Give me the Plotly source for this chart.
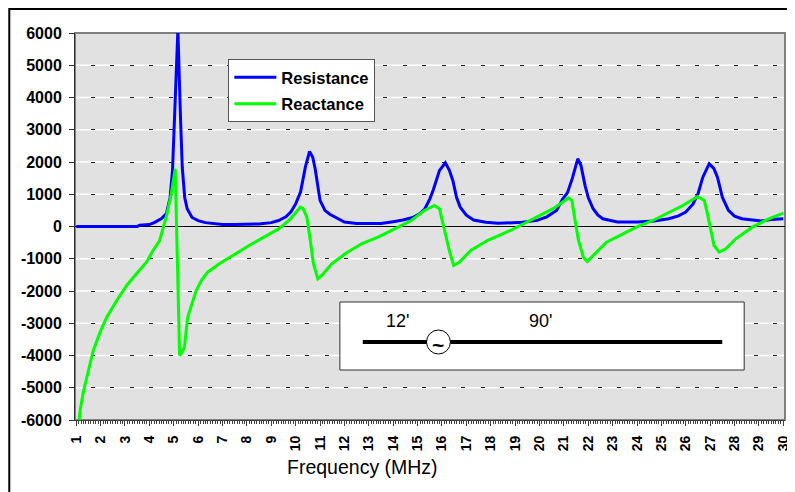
import plotly.graph_objects as go

# ---------------- data ----------------
freq_res = [1.0, 2.0, 3.0, 3.5, 3.6, 4.0, 4.2, 4.5, 4.7, 4.85, 4.95, 5.05, 5.17, 5.28, 5.35, 5.45,
            5.55, 5.75, 6.0, 6.3, 6.7, 7.0, 7.5, 8.0, 8.5, 9.0, 9.3, 9.6, 9.8, 10.0, 10.2, 10.4,
            10.57, 10.7, 10.8, 11.0, 11.2, 11.4, 11.7, 12.0, 12.5, 13.0, 13.5, 14.0, 14.4, 14.8,
            15.1, 15.3, 15.5, 15.65, 15.9, 16.14, 16.3, 16.45, 16.6, 16.75, 17.0, 17.3, 17.8,
            18.3, 18.8, 19.3, 19.9, 20.3, 20.7, 20.95, 21.15, 21.35, 21.57, 21.7, 21.87, 22.0,
            22.2, 22.4, 22.6, 23.2, 24.0, 24.7, 25.3, 25.7, 26.0, 26.3, 26.5, 26.7, 26.96, 27.15,
            27.3, 27.5, 27.75, 28.0, 28.3, 28.7, 29.1, 29.5, 30.0]
resistance = [0, 0, 0, 0, 40, 60, 120, 250, 400, 900, 1750, 3500, 6100, 3300, 1830, 900,
              550, 280, 180, 120, 80, 60, 60, 60, 80, 120, 186, 300, 450, 700, 1070, 1850,
              2330, 2150, 1790, 810, 500, 380, 250, 140, 90, 80, 90, 150, 200, 280,
              400, 550, 850, 1150, 1740, 1975, 1750, 1420, 900, 600, 350, 200, 130,
              100, 110, 130, 190, 300, 500, 850, 1050, 1500, 2100, 1900, 1270, 900,
              550, 350, 240, 140, 140, 170, 240, 330, 450, 700, 1010, 1530, 1945, 1800,
              1530, 910, 500, 320, 240, 200, 170, 220, 240]

freq_rea = [1.09, 1.16, 1.3, 1.46, 1.7, 1.98, 2.25, 2.66, 3.07, 3.47, 3.88, 4.15, 4.42, 4.69,
            4.9, 5.06, 5.24, 5.34, 5.44, 5.57, 5.75, 5.92, 6.15, 6.39, 6.87, 7.41, 8.09, 8.7,
            9.31, 9.79, 10.19, 10.3, 10.46, 10.6, 10.73, 10.91, 11.07, 11.48, 12.03, 12.7,
            13.38, 14.06, 14.74, 15.28, 15.69, 15.9, 16.1, 16.3, 16.48, 16.71, 17.18, 17.86,
            18.81, 19.63, 20.58, 21.19, 21.33, 21.46, 21.6, 21.8, 21.96, 22.34, 22.75, 23.43,
            23.97, 24.65, 25.33, 25.88, 26.49, 26.76, 26.89, 27.03, 27.16, 27.37, 27.64,
            28.05, 28.73, 29.4, 30.0]
reactance = [-6220, -5700, -5100, -4570, -3845, -3277, -2812, -2295, -1829, -1467, -1107, -744,
             -434, 288, 1013, 1790, -4000, -3900, -3740, -2812, -2350, -1984, -1650, -1417,
             -1157, -899, -589, -330, -72, 238, 600, 560, 288, -434, -1157, -1622, -1519,
             -1157, -847, -537, -331, -72, 186, 496, 651, 548, -124, -744, -1209, -1107, -744,
             -434, -124, 186, 560, 885, 806, 186, -434, -951, -1085, -796, -486, -228, -20,
             186, 445, 651, 930, 806, 393, -124, -589, -796, -692, -381, -20, 238, 413]

x_ticks = list(range(1, 31))
y_ticks = list(range(-6000, 6001, 1000))
x_title = "Frequency (MHz)"
diagram_labels = ["12'", "90'"]

# ---------------- layout helpers (figure pixel coords) ----------------
W, H = 795, 492
L, R, T, B = 67, 15, 25, 80
PW, PH = W - L - R, H - T - B
X_RANGE = [0.95, 30.07]


def px(p):
    return (p - L) / PW


def py(p):
    return (H - B - p) / PH


FONT = "Liberation Sans, Arial, sans-serif"

fig = go.Figure()
fig.add_trace(go.Scatter(x=freq_res, y=resistance, mode="lines", name="Resistance",
                         line=dict(color="#0000FF", width=3), legendgroup="a"))
fig.add_trace(go.Scatter(x=freq_rea, y=reactance, mode="lines", name="Reactance",
                         line=dict(color="#00FF00", width=3), legendgroup="b"))

shapes = []
# white solid gridlines under the dashed black axis grid
for v in y_ticks:
    shapes.append(dict(type="line", xref="paper", yref="y", x0=0, x1=1, y0=v, y1=v,
                       line=dict(color="white", width=1.5), layer="below"))
shapes += [
    # plot-area border (gray)
    dict(type="rect", xref="paper", yref="paper", x0=0, x1=1, y0=0, y1=1,
         line=dict(color="#808080", width=2), layer="below"),
    # outer chart border
    dict(type="rect", xref="paper", yref="paper", x0=px(1), x1=px(805), y0=py(505), y1=py(1),
         line=dict(color="black", width=2), layer="above"),
    # inset diagram box
    dict(type="rect", xref="paper", yref="paper", x0=px(333), x1=px(739), y0=py(362), y1=py(294),
         line=dict(color="#303030", width=1), fillcolor="white", layer="above"),
    dict(type="line", xref="paper", yref="paper", x0=px(356), x1=px(717), y0=py(334), y1=py(334),
         line=dict(color="black", width=4), layer="above"),
    dict(type="circle", xref="paper", yref="paper", x0=px(420), x1=px(444), y0=py(346), y1=py(322),
         line=dict(color="black", width=1), fillcolor="white", layer="above"),
]

annotations = [
    dict(text=x_title, xref="paper", yref="paper", x=px(356), y=py(459), showarrow=False,
         font=dict(family=FONT, size=19.5, color="black"), xanchor="center", yanchor="middle"),
    dict(text=diagram_labels[0], xref="paper", yref="paper", x=px(391), y=py(313), showarrow=False,
         font=dict(family=FONT, size=18, color="black"), xanchor="center", yanchor="middle"),
    dict(text=diagram_labels[1], xref="paper", yref="paper", x=px(534), y=py(313), showarrow=False,
         font=dict(family=FONT, size=18, color="black"), xanchor="center", yanchor="middle"),
    dict(text="~", xref="paper", yref="paper", x=px(432), y=py(336), showarrow=False,
         font=dict(family=FONT, size=21, color="black", weight="bold"),
         xanchor="center", yanchor="middle"),
]

fig.update_layout(
    width=W, height=H,
    margin=dict(l=L, r=R, t=T, b=B),
    paper_bgcolor="white",
    plot_bgcolor="#E1E1E1",
    font=dict(family=FONT, color="black"),
    showlegend=True,
    legend=dict(x=px(221), y=py(51), xanchor="left", yanchor="top",
                bgcolor="white", bordercolor="#555555", borderwidth=1,
                font=dict(family=FONT, size=16.5, color="black", weight="bold"),
                traceorder="grouped", tracegroupgap=2, itemwidth=42),
    xaxis=dict(range=X_RANGE, tickmode="array", tickvals=x_ticks,
               ticktext=[str(v) for v in x_ticks], tickangle=-90,
               tickfont=dict(family=FONT, size=14, color="black", weight="bold"),
               ticks="outside", ticklen=5, tickcolor="#404040", ticklabelstandoff=4,
               minor=dict(dtick=0.1, tick0=1, ticks="outside", ticklen=3, tickcolor="#404040",
                          showgrid=False),
               showgrid=False, zeroline=False,
               showline=True, linecolor="#404040", linewidth=1, mirror=False),
    yaxis=dict(range=[-6000, 6000], tickmode="array", tickvals=y_ticks,
               ticktext=[str(v) for v in y_ticks],
               tickfont=dict(family=FONT, size=16, color="black", weight="bold"),
               ticks="outside", ticklen=5, tickcolor="#303030", ticklabelstandoff=4,
               showgrid=True, gridcolor="#202020", gridwidth=1, griddash="0px,15.5px,4px,0px",
               zeroline=True, zerolinecolor="black", zerolinewidth=1,
               showline=True, linecolor="#303030", linewidth=1, mirror=False),
    shapes=shapes,
    annotations=annotations,
)

fig.write_html("out.html")
